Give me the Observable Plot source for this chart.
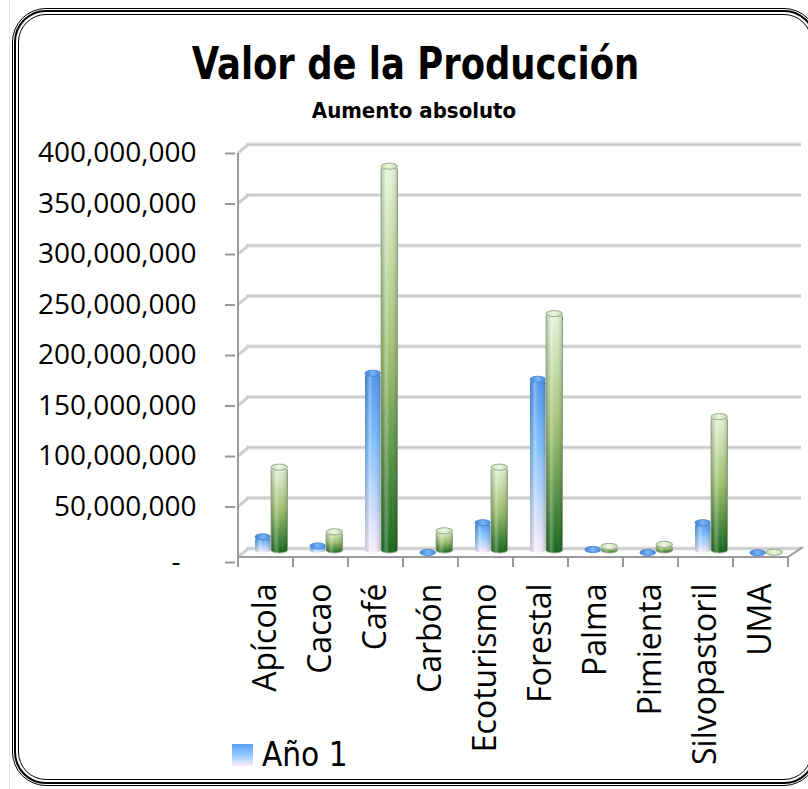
<!DOCTYPE html>
<html><head><meta charset="utf-8">
<script src="https://cdn.jsdelivr.net/npm/d3@7"></script>
<script src="https://cdn.jsdelivr.net/npm/@observablehq/plot@0.6"></script>
<style>
html,body{margin:0;padding:0;background:#fff}
body{width:808px;height:789px;overflow:hidden;position:relative;font-family:"Open Sans",sans-serif}
.b{position:absolute;box-sizing:border-box;border-style:solid;border-color:#000}
#b1{left:12px;top:8px;width:806px;height:778px;border-width:1px;border-radius:34px}
#b2{left:14px;top:10px;width:802px;height:774px;border-width:2px;border-radius:32px}
#b3{left:18px;top:14px;width:794px;height:766px;border-width:1px;border-radius:28px}
#strip{position:absolute;left:0;top:0;width:9px;height:789px;border-right:1px solid #e4e4e4}
#title{position:absolute;left:12px;top:38px;width:804px;text-align:center;font-family:"DejaVu Sans Condensed",sans-serif;font-weight:bold;font-size:45px;line-height:52px;color:#000;transform:scaleX(0.875);transform-origin:414px 0}
#subtitle{position:absolute;left:12px;top:97px;width:804px;text-align:center;font-family:"DejaVu Sans Condensed",sans-serif;font-weight:bold;font-size:22px;line-height:28px;color:#000}
#chart{position:absolute;left:0;top:0}
#legend{position:absolute;left:232px;top:735px;display:flex;align-items:center;font-family:"DejaVu Sans Condensed",sans-serif;font-size:33px;color:#000}
#legend .sw{width:21px;height:22px;margin-right:9px;background:linear-gradient(#5a9ef2,#8cc6ff 45%,#f8ecf8)}
</style>
</head><body>
<div id="strip"></div>
<div class="b" id="b1"></div><div class="b" id="b2"></div><div class="b" id="b3"></div>
<div id="title">Valor de la Producción</div>
<div id="subtitle">Aumento absoluto</div>
<div id="chart"></div>
<div id="legend"></div>
<script>
const categories = ["Apícola","Cacao","Café","Carbón","Ecoturismo","Forestal","Palma","Pimienta","Silvopastoril","UMA"];
const anio1 = [16e6, 7e6, 178e6, 0.5e6, 30e6, 172e6, 3.5e6, 0.5e6, 30e6, 0.3e6];
const anio2 = [85e6, 21e6, 383e6, 22e6, 85e6, 237e6, 6.5e6, 8.5e6, 135e6, 0.8e6];
const seriesNames = ["Año 1", "Año 2"];
const yTicks = [0, 50e6, 100e6, 150e6, 200e6, 250e6, 300e6, 350e6, 400e6];

const d1 = categories.map((c, i) => ({category: c, value: anio1[i], series: seriesNames[0]}));
const d2 = categories.map((c, i) => ({category: c, value: anio2[i], series: seriesNames[1]}));

const fmt = d3.format(",");
const W = 808, H = 789;

const bar = (data, fill, cap, capStroke, inL, inR, stroke) => [
  Plot.barY(data, {x: "category", y: "value", insetLeft: inL, insetRight: inR, dy: -4, rx: 8, ry: 3, fill, stroke, strokeWidth: 1}),
  Plot.barY(data, {x: "category", y: "value", insetLeft: inL, insetRight: inR, dy: -4, rx: 8, ry: 3, fill: "url(#shine)"}),
  Plot.barY(data, {x: "category", y1: "value", y2: "value", insetTop: -3, insetBottom: -3, insetLeft: inL, insetRight: inR, dy: -4, rx: 8, ry: 3, fill: cap, stroke: capStroke, strokeWidth: 1})
];

const chart = Plot.plot({
  width: W, height: H,
  marginTop: 153, marginBottom: H - 557, marginLeft: 235, marginRight: 18,
  style: {background: "transparent", fontFamily: "'Open Sans', sans-serif", color: "#000", overflow: "visible"},
  x: {type: "band", domain: categories, padding: 0, label: null},
  y: {domain: [0, 400e6], label: null},
  marks: [
    Plot.ruleY(yTicks, {dx: 11, dy: -9, stroke: "#e2e2e2", strokeWidth: 4}),
    Plot.ruleY(yTicks, {dx: 11, dy: -9, stroke: "#c6c6c6", strokeWidth: 1.5}),
    Plot.axisY({ticks: yTicks.filter(t => t !== 0), tickSize: 10, tickPadding: 29, fontSize: 28, stroke: "#999", strokeWidth: 2, tickFormat: fmt}),
    Plot.axisY({ticks: [0], tickSize: 10, tickPadding: 29, fontSize: 28, stroke: "#999", strokeWidth: 2, textStroke: "none", tickFormat: () => "-\u2007", dy: 5}),
    Plot.axisX({tickSize: 0, tickPadding: 26, tickRotate: -90, fontSize: 32}),
    ...bar(d1, "url(#g1)", "url(#cap1)", "#4c88d8", 17, 22.5, "none"),
    ...bar(d2, "url(#g2)", "url(#cap2)", "#98a88c", 33, 5.5, "#a0ae96")
  ]
});

// gradients
const svg = d3.select(chart);
const defs = svg.insert("defs", ":first-child");
const lg = (id, stops, horiz) => {
  const g = defs.append("linearGradient").attr("id", id).attr("x1", 0).attr("y1", 0)
    .attr("x2", horiz ? 1 : 0).attr("y2", horiz ? 0 : 1);
  stops.forEach(([o, c, a]) => g.append("stop").attr("offset", o).attr("stop-color", c).attr("stop-opacity", a ?? 1));
};
lg("g1", [[0, "#4f94ec"], [0.4, "#80c0ff"], [1, "#faeefa"]]);
lg("g2", [[0, "#e6f4d8"], [0.5, "#9cbf6c"], [1, "#12661a"]]);
lg("cap1", [[0, "#3f7fd8"], [0.5, "#7ab6f8"], [1, "#4a88dc"]], true);
lg("cap2", [[0, "#c8dcb0"], [0.5, "#eef8e2"], [1, "#c0d4a8"]], true);
lg("shine", [[0, "#000", 0.15], [0.3, "#fff", 0.3], [0.55, "#fff", 0], [1, "#000", 0.2]], true);

// 3D frame decorations derived from the scales
const xs = chart.scale("x"), ys = chart.scale("y");
const bw = xs.bandwidth;
const x0 = xs.apply(categories[0]);
const xN = xs.apply(categories[categories.length - 1]) + bw;
const y0 = ys.apply(0), yTop = ys.apply(400e6);
const deco = svg.insert("g", "g[aria-label='bar']").attr("stroke", "#9a9a9a").attr("stroke-width", 2).attr("fill", "none");
yTicks.forEach(t => {
  const yy = ys.apply(t);
  deco.append("line").attr("x1", x0).attr("y1", yy).attr("x2", x0 + 11).attr("y2", yy - 9).attr("stroke", "#cfcfcf").attr("stroke-width", 3);
});
deco.append("line").attr("x1", x0).attr("y1", y0).attr("x2", xN).attr("y2", y0);
deco.append("line").attr("x1", xN).attr("y1", y0).attr("x2", xN + 15).attr("y2", y0 - 10);
deco.append("line").attr("x1", x0).attr("y1", yTop).attr("x2", x0).attr("y2", y0);
const bounds = categories.map(c => xs.apply(c)).concat([xN]);
bounds.forEach(b => deco.append("line").attr("x1", b).attr("y1", y0).attr("x2", b).attr("y2", y0 + 10));

document.getElementById("chart").appendChild(chart);

const leg = document.getElementById("legend");
leg.innerHTML = `<div class="sw"></div><span>${seriesNames[0]}</span>`;
</script>
</body></html>
